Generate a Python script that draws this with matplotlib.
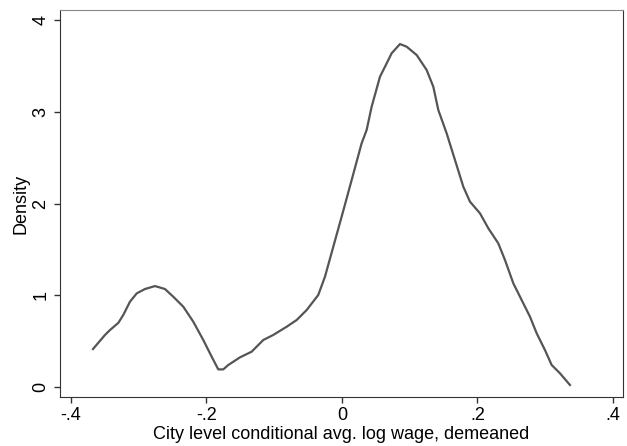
import matplotlib
matplotlib.use("Agg")
import matplotlib.pyplot as plt

plt.rcParams["font.family"] = ["Liberation Sans", "DejaVu Sans"]

# kernel density curve
wage = [-0.3675, -0.3498, -0.3424, -0.330, -0.3228, -0.3129, -0.303, -0.2908,
        -0.276, -0.2613, -0.249, -0.2342, -0.2195, -0.2047, -0.1923, -0.1826,
        -0.1752, -0.1678, -0.1506, -0.1333, -0.1162, -0.1015, -0.0816, -0.0669,
        -0.0521, -0.035, -0.0251, -0.0128, -0.0005, 0.0143, 0.029, 0.0364,
        0.0438, 0.0561, 0.066, 0.0733, 0.0856, 0.0955, 0.1103, 0.125, 0.1348,
        0.1422, 0.1545, 0.1668, 0.1791, 0.1889, 0.2037, 0.216, 0.2307, 0.2406,
        0.2529, 0.2652, 0.2775, 0.2874, 0.2996, 0.3095, 0.3218, 0.3365]
density = [0.414, 0.567, 0.621, 0.70, 0.785, 0.93, 1.02, 1.068,
           1.10, 1.068, 0.984, 0.875, 0.712, 0.512, 0.33, 0.192,
           0.192, 0.24, 0.323, 0.385, 0.512, 0.567, 0.657, 0.73,
           0.839, 1.003, 1.202, 1.529, 1.856, 2.256, 2.656, 2.801,
           3.055, 3.382, 3.528, 3.637, 3.738, 3.709, 3.618, 3.455, 3.273,
           3.019, 2.765, 2.474, 2.183, 2.02, 1.893, 1.73, 1.566, 1.384,
           1.13, 0.948, 0.766, 0.585, 0.403, 0.24, 0.149, 0.022]

xticks = [-0.4, -0.2, 0, 0.2, 0.4]
xlabels = ["-.4", "-.2", "0", ".2", ".4"]
yticks = [0, 1, 2, 3, 4]

fig = plt.figure(figsize=(6.27, 4.46), dpi=100)
ax = fig.add_axes([60 / 627, 49 / 446, 563 / 627, 387 / 446])

ax.plot(wage, density, color="#555555", lw=1.6, solid_joinstyle="round")

ax.set_xlim(-0.4162, 0.4148)
ax.set_ylim(-0.109, 4.109)
ax.set_xticks(xticks)
ax.set_xticklabels(xlabels)
ax.set_yticks(yticks)
ax.set_yticklabels([str(v) for v in yticks], rotation=90, va="center")

ax.tick_params(direction="out", length=4.5, width=1, color="#333333",
               labelsize=13, pad=3)
for side in ["left", "bottom", "right"]:
    ax.spines[side].set_color("#333333")
ax.spines["top"].set_color("#888888")

ax.set_xlabel("City level conditional avg. log wage, demeaned", fontsize=13,
              labelpad=1)
ax.set_ylabel("Density", fontsize=13, labelpad=2)

fig.savefig("out.png", dpi=100)
